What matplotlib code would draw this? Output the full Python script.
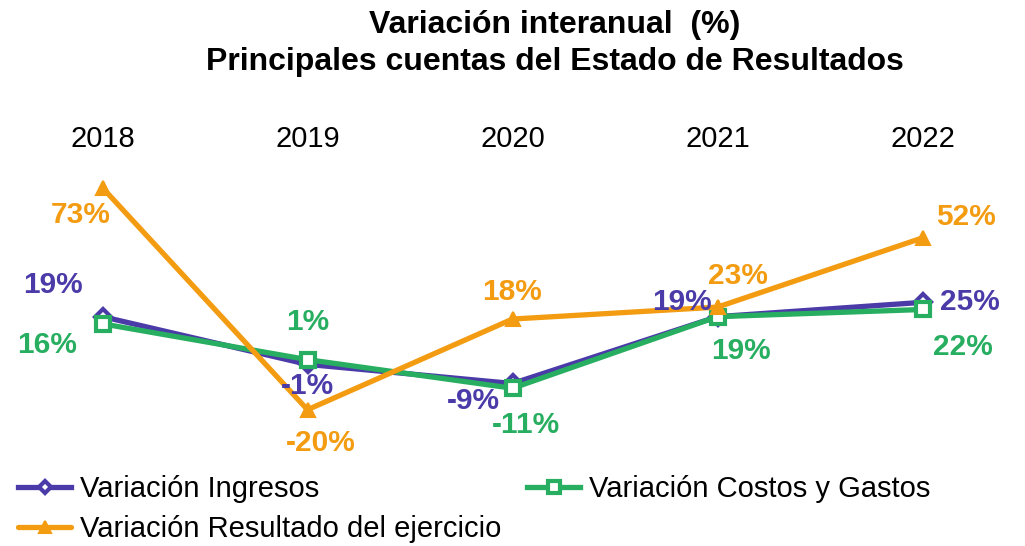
import matplotlib
matplotlib.use("Agg")
import matplotlib.pyplot as plt

plt.rcParams['font.family'] = ['Liberation Sans', 'DejaVu Sans']

years = ["2018", "2019", "2020", "2021", "2022"]
ingresos = [19, -1, -9, 19, 25]
costos = [16, 1, -11, 19, 22]
resultado = [73, -20, 18, 23, 52]

series = [
    ("Variación Ingresos", ingresos, "#4B3BA8", "D"),
    ("Variación Costos y Gastos", costos, "#27AE60", "s"),
    ("Variación Resultado del ejercicio", resultado, "#F39C12", "^"),
]

# label offsets in pixels (style/position only)
offsets = {
    "Variación Ingresos": [(-50, 32), (0, -22), (-39, -18), (-36, 15), (47, 0)],
    "Variación Costos y Gastos": [(-55, -21), (0, 38), (13, -37), (23, -34), (40, -38)],
    "Variación Resultado del ejercicio": [(-22, -27), (13, -33), (0, 27), (20, 31), (43, 21)],
}

fig = plt.figure(figsize=(10.25, 5.46), dpi=100)
ax = fig.add_axes([0.0, 0.2277, 1.0, 0.459])
x = list(range(len(years)))

handles = {}
for name, vals, col, mk in series:
    if mk == "^":
        h, = ax.plot(x, vals, color=col, lw=3.8, marker=mk, ms=10,
                     mfc=col, mec=col, mew=1.5, label=name, zorder=4,
                     solid_capstyle='round')
    else:
        h, = ax.plot(x, vals, color=col, lw=3.8, marker=mk, ms=8 if mk == "D" else 10,
                     mfc="white", mec=col, mew=3, label=name, zorder=3 if mk == "D" else 3.5)
    handles[name] = h
    for xi, v, off in zip(x, vals, offsets[name]):
        ax.annotate(f"{v}%", (xi, v), xytext=off, textcoords="offset pixels",
                    ha="center", va="center", fontsize=21.5, fontweight="bold",
                    color=col, zorder=6)

ax.set_xlim(-0.5, 4.5)
ax.set_ylim(-25, 80)
ax.set_yticks([])
ax.set_xticks(x)
ax.set_xticklabels(years, fontsize=21)
ax.xaxis.tick_top()
ax.tick_params(axis='x', length=0, pad=13)
for s in ax.spines.values():
    s.set_visible(False)

fig.text(0.5415, 0.982, "Variación interanual  (%)\nPrincipales cuentas del Estado de Resultados",
         ha="center", va="top", fontsize=23, fontweight="bold", linespacing=1.33)

order = ["Variación Ingresos", "Variación Resultado del ejercicio", "Variación Costos y Gastos"]
leg = fig.legend([handles[n] for n in order], order, ncol=2, loc="upper left",
                 bbox_to_anchor=(0.018, 0.13), frameon=False, fontsize=21,
                 handlelength=1.8, handletextpad=0.3, columnspacing=0.9,
                 labelspacing=0.42, borderaxespad=0, borderpad=0, markerscale=0.8)

fig.savefig("out.png", dpi=100)
